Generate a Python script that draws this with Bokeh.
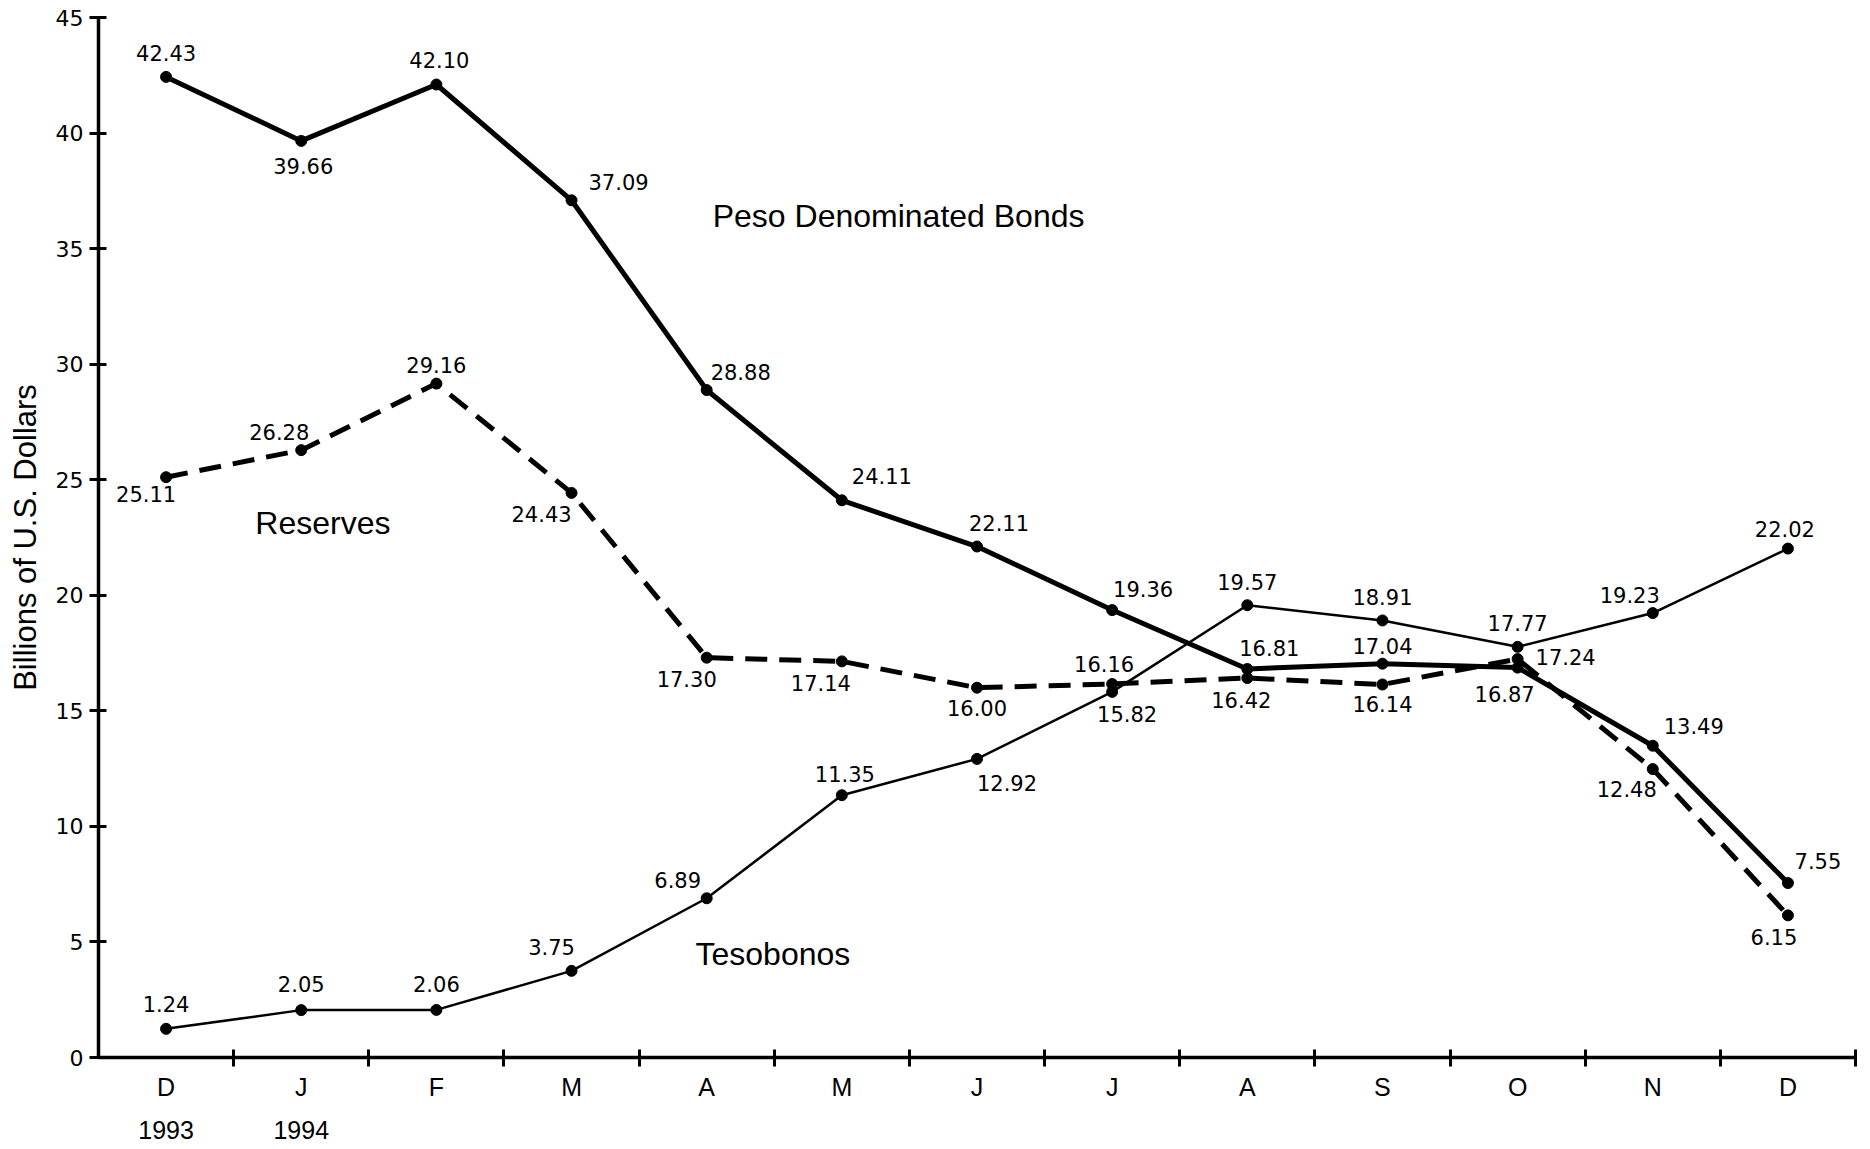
from bokeh.plotting import figure
from bokeh.models import ColumnDataSource, Range1d, FixedTicker, LinearAxis, Label
from bokeh.core.properties import value
from bokeh.embed import file_html
from bokeh.resources import INLINE

# ---------------- data ----------------
months = ["D", "J", "F", "M", "A", "M", "J", "J", "A", "S", "O", "N", "D"]
year_labels = ["1993", "1994"]
peso_bonds = [42.43, 39.66, 42.10, 37.09, 28.88, 24.11, 22.11, 19.36, 16.81, 17.04, 16.87, 13.49, 7.55]
reserves = [25.11, 26.28, 29.16, 24.43, 17.30, 17.14, 16.00, 16.16, 16.42, 16.14, 17.24, 12.48, 6.15]
tesobonos = [1.24, 2.05, 2.06, 3.75, 6.89, 11.35, 12.92, 15.82, 19.57, 18.91, 17.77, 19.23, 22.02]
y_ticks = [0, 5, 10, 15, 20, 25, 30, 35, 40, 45]

# ---------------- label placement (screen px offsets, +y = down) ----------------
peso_off = [(0, -24), (2, 25), (3, -25), (47, -18), (34, -18), (40, -24), (22, -24),
            (31, -21), (22, -21), (0, -18), (-13, 26), (41, -20), (30, -22)]
res_off = [(-20, 17), (-22, -18), (0, -19), (-30, 21), (-20, 21), (-21, 22), (0, 20),
           (-8, -20), (-6, 22), (0, 20), (48, -2), (-26, 20), (-14, 22)]
tes_off = [(0, -25), (0, -26), (0, -26), (-20, -24), (-29, -18), (3, -21), (30, 24),
           (15, 22), (0, -23), (0, -23), (0, -24), (-23, -18), (-3, -20)]

FONT = "Liberation Sans"
NUM_FONT = "DejaVu Sans"
xs = list(range(len(months)))

p = figure(width=1870, height=1149,
           x_range=Range1d(-0.5, 12.5), y_range=Range1d(0, 45),
           output_backend="svg", toolbar_location=None,
           min_border_left=98, min_border_right=15, min_border_top=17, min_border_bottom=92)
p.xaxis.visible = False
p.yaxis.visible = False
p.grid.visible = False
p.outline_line_color = None
p.background_fill_color = "white"
p.border_fill_color = "white"

# y axis
yax = LinearAxis(ticker=FixedTicker(ticks=y_ticks, minor_ticks=[]))
yax.axis_line_width = 3.5
yax.major_tick_line_width = 3
yax.major_tick_in = 8
yax.major_tick_out = 9
yax.minor_tick_in = 0
yax.minor_tick_out = 0
yax.major_label_text_font = NUM_FONT
yax.major_label_text_font_size = "22px"
yax.major_label_text_color = "black"
yax.major_label_standoff = 6
yax.axis_label = "Billions of U.S. Dollars"
yax.axis_label_text_font = FONT
yax.axis_label_text_font_size = "31px"
yax.axis_label_text_font_style = "normal"
yax.axis_label_text_color = "black"
yax.axis_label_standoff = 10
p.add_layout(yax, "left")

# x axis with month letters; ticks at month boundaries
xax = LinearAxis(ticker=FixedTicker(ticks=xs, minor_ticks=[i + 0.5 for i in xs]))
xax.major_label_overrides = {i: m for i, m in enumerate(months)}
xax.axis_line_width = 3.5
xax.major_tick_in = 0
xax.major_tick_out = 0
xax.minor_tick_in = 8
xax.minor_tick_out = 9
xax.minor_tick_line_width = 3
xax.major_label_text_font = FONT
xax.major_label_text_font_size = "25px"
xax.major_label_text_color = "black"
xax.major_label_standoff = 6
p.add_layout(xax, "below")

# second row: years
yr = LinearAxis(ticker=FixedTicker(ticks=[0, 1], minor_ticks=[]))
yr.major_label_overrides = {i: t for i, t in enumerate(year_labels)}
yr.axis_line_color = None
yr.major_tick_line_color = None
yr.minor_tick_line_color = None
yr.major_tick_in = 0
yr.major_tick_out = 0
yr.major_label_text_font = FONT
yr.major_label_text_font_size = "25px"
yr.major_label_text_color = "black"
yr.major_label_standoff = 17
p.add_layout(yr, "below")


def series(vals, offs, width, dash):
    src = ColumnDataSource(dict(
        x=xs, y=vals,
        lab=["%.2f" % v for v in vals],
        dx=[o[0] for o in offs],
        dy=[o[1] for o in offs],
    ))
    p.line("x", "y", source=src, line_width=width, line_color="black",
           line_dash=dash, line_join="round")
    p.scatter("x", "y", source=src, marker="circle", size=11,
              fill_color="black", line_color="black")
    p.text("x", "y", text="lab", source=src, x_offset="dx", y_offset="dy",
           text_align="center", text_baseline="middle",
           text_font=value(NUM_FONT), text_font_size="21px", text_color="black")


series(peso_bonds, peso_off, 5, "solid")
series(reserves, res_off, 5, "22 12")
series(tesobonos, tes_off, 2.5, "solid")

for txt, lx, ly in [("Peso Denominated Bonds", 5.42, 36.43),
                    ("Reserves", 1.16, 23.11),
                    ("Tesobonos", 4.49, 4.50)]:
    p.add_layout(Label(x=lx, y=ly, text=txt, text_align="center", text_baseline="middle",
                       text_font=FONT, text_font_size="32px", text_color="black"))

open("out.html", "w").write(file_html(p, INLINE))
